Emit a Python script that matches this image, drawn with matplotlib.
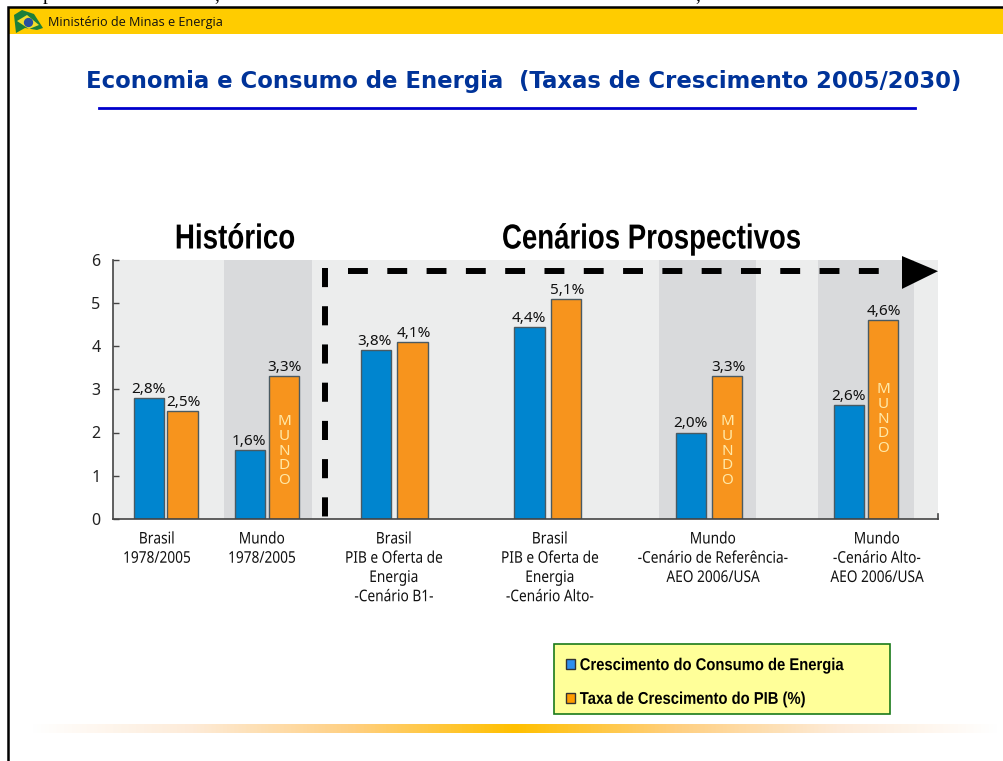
import numpy as np
import matplotlib
matplotlib.use('Agg')
import matplotlib.pyplot as plt
from matplotlib.colors import LinearSegmentedColormap
from matplotlib.patheffects import AbstractPathEffect
from matplotlib.transforms import Affine2D

# values
energia = [2.8, 1.6, 3.9, 4.44, 2.0, 2.64]
pib = [2.5, 3.3, 4.09, 5.09, 3.3, 4.6]
energia_labels = ['2,8%', '1,6%', '3,8%', '4,4%', '2,0%', '2,6%']
pib_labels = ['2,5%', '3,3%', '4,1%', '5,1%', '3,3%', '4,6%']
categories = ['Brasil\n1978/2005',
              'Mundo\n1978/2005',
              'Brasil\nPIB e Oferta de\nEnergia\n-Cenário B1-',
              'Brasil\nPIB e Oferta de\nEnergia\n-Cenário Alto-',
              'Mundo\n-Cenário de Referência-\nAEO 2006/USA',
              'Mundo\n-Cenário Alto-\nAEO 2006/USA']
y_ticks = [0, 1, 2, 3, 4, 5, 6]
legend_labels = ['Crescimento do Consumo de Energia', 'Taxa de Crescimento do PIB (%)']

# layout, in pixels of the slide
W, H = 1004, 761
AX_L, AX_R, AX_T, AX_B = 113, 938, 259.5, 519
energia_x = [149, 250, 376, 529.5, 691, 849]
pib_x = [182.5, 284, 412.5, 566, 727, 883]
cat_x = [157, 262, 394, 550, 713, 877]
bar_w = 30.5
dark_bands = [(224, 312), (659, 756), (818, 914)]
mundo = [(1, 1.57), (4, 1.57), (5, 2.31)]

BLUE = '#0085CF'
ORANGE = '#F7941D'
EDGE = '#4A5A62'


class Condense(AbstractPathEffect):
    # no narrow font is installed, so squeeze each text line sideways
    def __init__(self, sx, center=True):
        super().__init__()
        self.sx = sx
        self.center = center

    def draw_path(self, renderer, gc, tpath, affine, rgbFace=None):
        mid = tpath.get_extents().width / 2 if self.center else 0
        squeeze = Affine2D().translate(-mid, 0).scale(self.sx, 1).translate(mid, 0)
        renderer.draw_path(gc, tpath, squeeze + affine, rgbFace)


fig = plt.figure(figsize=(W / 100, H / 100), dpi=100, facecolor='white')

# slide: frame, header, title, gradient strip
bg = fig.add_axes([0, 0, 1, 1])
bg.set_xlim(0, W)
bg.set_ylim(H, 0)
bg.axis('off')
bg.fill_between([8, W], 7, 34, color='#FFCC00', lw=0)
bg.plot([8.5, 8.5, W], [H, 7, 7], color='black', lw=1.8, solid_joinstyle='miter')
for x, s in [(48, 'p'), (217, ','), (698, ',')]:
    bg.text(x, 0, s, family='Liberation Serif', fontsize=14, ha='center', va='baseline', clip_on=False)

# flag logo
bg.fill([14, 22, 34, 43, 37, 25, 16], [15, 10, 14, 28, 30, 28, 33], color='#1C7F3A', lw=0)
bg.fill([17, 27, 39, 29], [21, 15, 25, 29], color='#F2DE2C', lw=0)
bg.scatter([28], [22], s=45, color='#2A4F9E', lw=0)
bg.text(48, 22.5, 'Ministério de Minas e Energia', family='Open Sans', fontsize=9.1,
        ha='left', va='center', color='#111111')

bg.text(523.5, 81.5, 'Economia e Consumo de Energia  (Taxas de Crescimento 2005/2030)', family='DejaVu Sans',
        fontweight='bold', fontsize=16.4, color='#003399', ha='center', va='center')
bg.plot([99, 915], [108, 108], color='#0000CC', lw=2)

t1 = bg.text(235.5, 239, 'Histórico', family='Liberation Sans', fontweight='bold', fontsize=25, ha='center', va='center')
t2 = bg.text(652, 239, 'Cenários Prospectivos', family='Liberation Sans', fontweight='bold', fontsize=25, ha='center', va='center')
t1.set_path_effects([Condense(0.8)])
t2.set_path_effects([Condense(0.795)])

strip = LinearSegmentedColormap.from_list('strip', ['#FFFFFF', '#FDEBD8', '#FFCF80', '#FFC000',
                                                    '#FFCF80', '#FDEBD8', '#FFFFFF'])
bg.imshow(np.linspace(0, 1, 512).reshape(1, -1), cmap=strip, extent=(30, 1000, 733, 724), aspect='auto')

# legend background
bg.fill([554, 890, 890, 554], [644, 644, 714, 714], facecolor='#FFFF99', edgecolor='#1A7A1A', lw=1.2)
bg.set_xlim(0, W)
bg.set_ylim(H, 0)

# chart
ax = fig.add_axes([AX_L / W, 1 - AX_B / H, (AX_R - AX_L) / W, (AX_B - AX_T) / H])
ax.set_facecolor('#ECEDED')
ax.set_xlim(AX_L, AX_R)
ax.set_ylim(0, 6)
for a, b in dark_bands:
    ax.axvspan(a, b, color='#D9DADC', lw=0, zorder=0)

b1 = ax.bar(energia_x, energia, bar_w, color=BLUE, edgecolor=EDGE, lw=1, zorder=2)
b2 = ax.bar(pib_x, pib, bar_w, color=ORANGE, edgecolor=EDGE, lw=1, zorder=2)

for x, v, s in zip(energia_x, energia, energia_labels):
    ax.text(x - 1, v + 0.03, s, family='Noto Sans', fontsize=11, color='#111111', ha='center', va='bottom')
for x, v, s in zip(pib_x, pib, pib_labels):
    ax.text(x + 1, v + 0.03, s, family='Noto Sans', fontsize=11, color='#111111', ha='center', va='bottom')
for i, y in mundo:
    ax.text(pib_x[i], y, '\n'.join('MUNDO'), family='Noto Sans', fontsize=11, color='#FFE9A8',
            ha='center', va='center', linespacing=0.98, zorder=3)

# dashed guides and arrow head
ax.plot([348, 882], [5.73, 5.73], color='black', lw=4.3, linestyle=(0, (3.33, 3.25)), dash_capstyle='butt', zorder=3)
ax.plot([325, 325], [5.8, 0], color='black', lw=4.3, linestyle=(0, (3.2, 3.2)), dash_capstyle='butt', zorder=3)
ax.fill([902, 938, 902], [6.08, 5.73, 5.32], color='black', lw=0, clip_on=False, zorder=3)

ax.spines['top'].set_visible(False)
ax.spines['right'].set_bounds(0, 0.12)
for side in ['left', 'bottom', 'right']:
    ax.spines[side].set_color('#444444')
    ax.spines[side].set_linewidth(1.2)

ax.set_yticks(y_ticks)
ax.tick_params(axis='y', direction='in', length=4, width=1, color='#444444', pad=9, labelsize=11.5)
ax.set_xticks(cat_x)
ax.set_xticklabels(categories, family='Noto Sans', fontsize=11.6, color='#111111', linespacing=1.27)
ax.tick_params(axis='x', length=0, pad=9)
for t in ax.get_yticklabels():
    t.set_family('Noto Sans')
    t.set_color('#222222')
for t in ax.get_xticklabels():
    t.set_path_effects([Condense(0.85)])

# legend entries
leg = fig.legend([b1, b2], legend_labels, loc='upper left', mode='expand',
                 bbox_to_anchor=(556 / W, 1 - 718 / H, 334 / W, 70 / H), borderaxespad=0,
                 frameon=False,
                 prop={'family': 'Liberation Sans', 'weight': 'bold', 'size': 12.3},
                 handlelength=0.55, handleheight=0.55, handletextpad=0.25,
                 labelspacing=1.1, borderpad=0.59)
for h, c in zip(leg.legend_handles, ['#2F8FEF', '#FF9C00']):
    h.set_facecolor(c)
    h.set_edgecolor('#333333')
for t in leg.get_texts():
    t.set_path_effects([Condense(0.866, center=False)])

fig.savefig('out.png', dpi=100)
